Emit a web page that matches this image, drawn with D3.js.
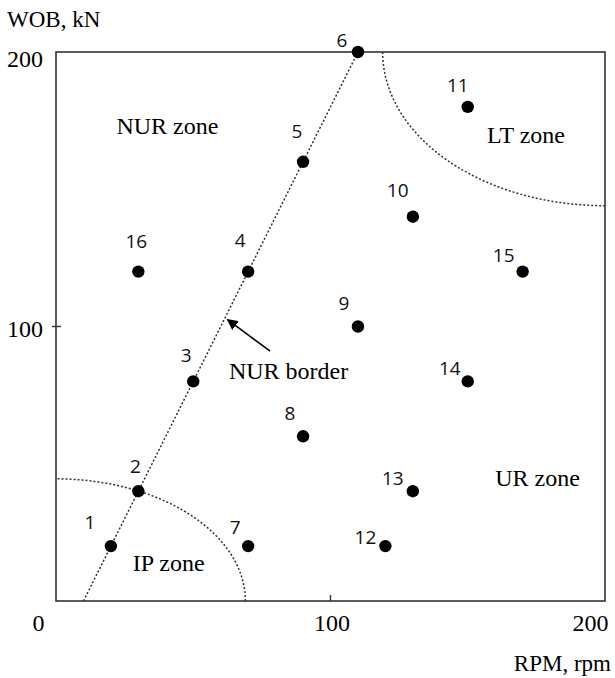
<!DOCTYPE html>
<html>
<head>
<meta charset="utf-8">
<script src="https://cdn.jsdelivr.net/npm/d3@7"></script>
<style>
  body { margin: 0; background: #fff; }
  svg { display: block; }
</style>
</head>
<body>
<svg id="chart" width="615" height="678"></svg>
<script>
// test points: rpm, wob (kN)
const ids = [1, 2, 3, 4, 5, 6, 7, 8, 9, 10, 11, 12, 13, 14, 15, 16];
const rpm = [20, 30, 50, 70, 90, 110, 70, 90, 110, 130, 150, 120, 130, 150, 170, 30];
const wob = [20, 40, 80, 120, 160, 200, 20, 60, 100, 140, 180, 20, 40, 80, 120, 120];
// label nudges (px) for point numbers
const labelDx = [-21, -3, -7, -8, -6, -16, -13, -13, -14, -15, -10, -20, -20, -18, -19, -2];
const labelDy = [-24, -25, -26, -31, -31, -12, -19, -23, -23, -27, -22, -9, -13, -13, -16, -30];

const xTicks = [0, 100, 200];
const yTicks = [100, 200];

// zone borders (data units)
const nurBorder = [[10, 0], [110, 200]];
const ipZone = { cx: 0, cy: 0, rx: 69, ry: 44.5 };
const ltZone = { cx: 200, cy: 200, rx: 81, ry: 56 };
const zoneLabels = [
  { text: 'NUR zone', x: 22, y: 170 },
  { text: 'LT zone', x: 157, y: 167 },
  { text: 'UR zone', x: 160, y: 42 },
  { text: 'IP zone', x: 28, y: 11 },
  { text: 'NUR border', x: 63, y: 81 },
];
const arrow = [[78, 91], [62.5, 102.5]];

const svg = d3.select('#chart');
const x = d3.scaleLinear().domain([0, 200]).range([56, 605]);
const y = d3.scaleLinear().domain([0, 200]).range([601, 52]);

const serif = "'Liberation Serif', 'Times New Roman', serif";
const sans = "'Open Sans', 'Noto Sans', sans-serif";

// frame
svg.append('rect')
    .attr('x', x(0)).attr('y', y(200))
    .attr('width', x(200) - x(0)).attr('height', y(0) - y(200))
    .attr('fill', 'none').attr('stroke', '#333').attr('stroke-width', 1.6);

// axes (labels only, frame is drawn above)
const xAxis = svg.append('g')
    .attr('transform', `translate(0,${y(0)})`)
    .call(d3.axisBottom(x).tickValues(xTicks).tickSize(0).tickPadding(13));
xAxis.select('.domain').remove();
xAxis.selectAll('text')
    .attr('font-family', serif).attr('font-size', 24).attr('fill', '#000')
    .attr('dx', d => d === 0 ? -18 : d === 200 ? -15 : 1);

const yAxis = svg.append('g')
    .attr('transform', `translate(${x(0)},0)`)
    .call(d3.axisLeft(y).tickValues(yTicks).tickSize(0).tickPadding(13));
yAxis.select('.domain').remove();
yAxis.selectAll('text')
    .attr('font-family', serif).attr('font-size', 24).attr('fill', '#000')
    .attr('dy', d => d === 200 ? '0.62em' : '0.42em');

// small tick marks
svg.append('line')
    .attr('x1', x(100)).attr('x2', x(100))
    .attr('y1', y(0)).attr('y2', y(0) - 6)
    .attr('stroke', '#333').attr('stroke-width', 1.4);
svg.append('line')
    .attr('x1', x(0) - 4).attr('x2', x(0) + 5)
    .attr('y1', y(100)).attr('y2', y(100))
    .attr('stroke', '#333').attr('stroke-width', 1.4);

// axis titles
svg.append('text').attr('x', 7).attr('y', 27)
    .attr('font-family', serif).attr('font-size', 23).text('WOB, kN');
svg.append('text').attr('x', 611).attr('y', 671).attr('text-anchor', 'end')
    .attr('font-family', serif).attr('font-size', 23).text('RPM, rpm');

// zone borders
const dotted = sel => sel.attr('fill', 'none').attr('stroke', '#333')
    .attr('stroke-width', 1.5).attr('stroke-dasharray', '2,2');

svg.append('path')
    .attr('d', d3.line().x(d => x(d[0])).y(d => y(d[1]))(nurBorder))
    .call(dotted);

const ellipseArc = (z, a0, a1) => d3.line()(
  d3.range(0, 101).map(i => {
    const t = a0 + (a1 - a0) * i / 100;
    return [x(z.cx + z.rx * Math.cos(t)), y(z.cy + z.ry * Math.sin(t))];
  }));

svg.append('path').attr('d', ellipseArc(ipZone, 0, Math.PI / 2)).call(dotted);
svg.append('path').attr('d', ellipseArc(ltZone, Math.PI, 1.5 * Math.PI)).call(dotted);

// zone labels
svg.append('g').selectAll('text')
  .data(zoneLabels)
  .join('text')
    .attr('x', d => x(d.x)).attr('y', d => y(d.y))
    .attr('font-family', serif).attr('font-size', 24)
    .text(d => d.text);

// arrow
svg.append('defs').append('marker')
    .attr('id', 'head').attr('viewBox', '0 0 10 10')
    .attr('refX', 9).attr('refY', 5)
    .attr('markerWidth', 11).attr('markerHeight', 11)
    .attr('markerUnits', 'userSpaceOnUse')
    .attr('orient', 'auto')
  .append('path').attr('d', 'M0,0 L10,5 L0,10 z').attr('fill', '#000');
svg.append('line')
    .attr('x1', x(arrow[0][0])).attr('y1', y(arrow[0][1]))
    .attr('x2', x(arrow[1][0])).attr('y2', y(arrow[1][1]))
    .attr('stroke', '#000').attr('stroke-width', 1.5)
    .attr('marker-end', 'url(#head)');

// points
const pts = ids.map((id, i) => ({ id, rpm: rpm[i], wob: wob[i], dx: labelDx[i], dy: labelDy[i] }));
svg.append('g').selectAll('circle')
  .data(pts)
  .join('circle')
    .attr('cx', d => x(d.rpm)).attr('cy', d => y(d.wob))
    .attr('r', 6.2).attr('fill', '#000');

svg.append('g').selectAll('text')
  .data(pts)
  .join('text')
    .attr('x', d => x(d.rpm) + d.dx).attr('y', d => y(d.wob) + d.dy)
    .attr('dy', '0.36em').attr('text-anchor', 'middle')
    .attr('font-family', sans).attr('font-size', 19).attr('fill', '#111')
    .text(d => d.id);
</script>
</body>
</html>
